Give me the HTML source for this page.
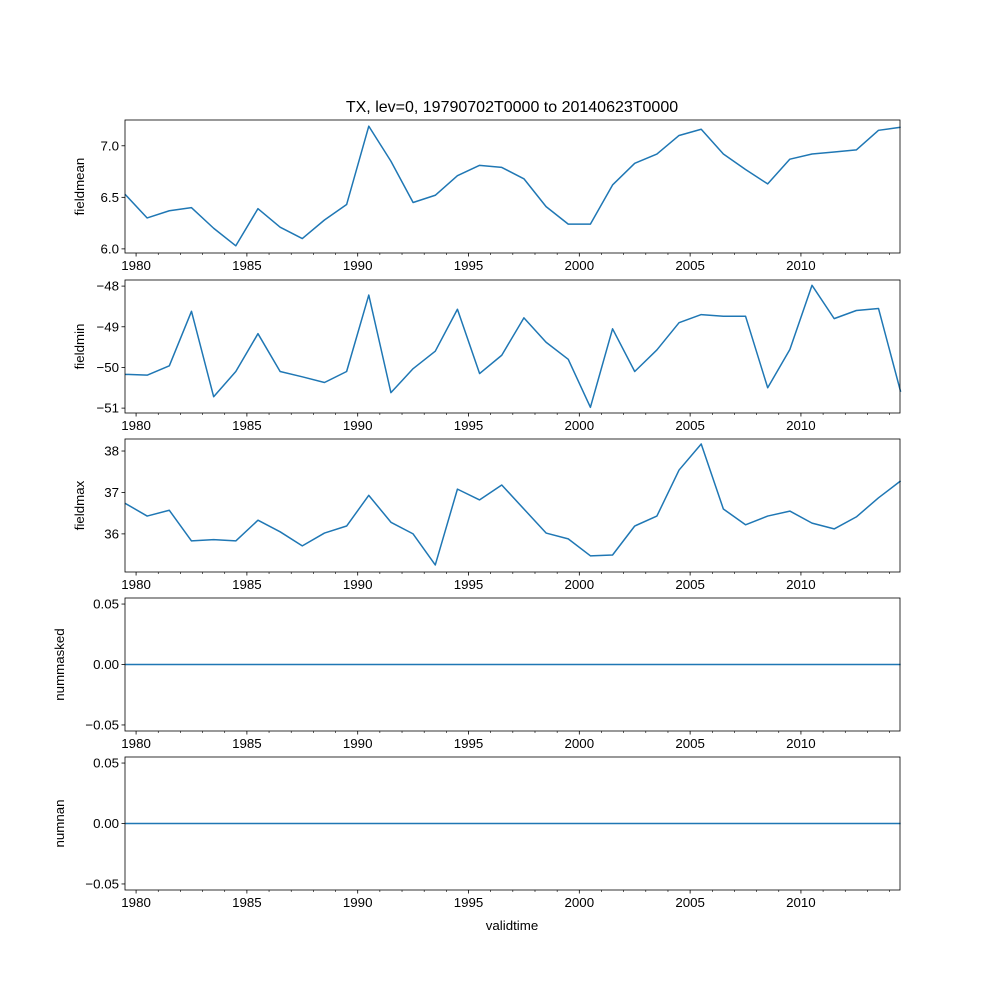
<!DOCTYPE html>
<html><head><meta charset="utf-8"><style>
html,body{margin:0;padding:0;background:#fff;}
svg{display:block;font-family:"Liberation Sans","DejaVu Sans",sans-serif;}
</style></head><body>
<svg id="chart" width="1000" height="1000" viewBox="0 0 1000 1000" xmlns="http://www.w3.org/2000/svg">
<rect width="1000" height="1000" fill="#fff"/>
<text x="512" y="112" font-size="16" text-anchor="middle">TX, lev=0, 19790702T0000 to 20140623T0000</text>
<text x="512" y="930" font-size="13.3" text-anchor="middle">validtime</text>
</svg>
<script>
const years = [1979,1980,1981,1982,1983,1984,1985,1986,1987,1988,1989,1990,1991,1992,1993,1994,1995,1996,1997,1998,1999,2000,2001,2002,2003,2004,2005,2006,2007,2008,2009,2010,2011,2012,2013,2014];
const fieldmean = [6.53,6.30,6.37,6.40,6.20,6.03,6.39,6.21,6.10,6.28,6.43,7.19,6.85,6.45,6.52,6.71,6.81,6.79,6.68,6.41,6.24,6.24,6.62,6.83,6.92,7.10,7.16,6.92,6.77,6.63,6.87,6.92,6.94,6.96,7.15,7.18];
const fieldmin = [-50.17,-50.19,-49.96,-48.62,-50.72,-50.1,-49.17,-50.1,-50.23,-50.37,-50.1,-48.22,-50.62,-50.03,-49.6,-48.57,-50.15,-49.7,-48.78,-49.38,-49.8,-50.98,-49.05,-50.1,-49.57,-48.9,-48.7,-48.74,-48.74,-50.5,-49.56,-47.98,-48.8,-48.6,-48.55,-50.6];
const fieldmax = [36.74,36.43,36.57,35.83,35.86,35.83,36.33,36.05,35.71,36.02,36.19,36.93,36.28,36.0,35.25,37.08,36.82,37.18,36.6,36.02,35.88,35.47,35.49,36.19,36.43,37.54,38.17,36.6,36.22,36.43,36.55,36.26,36.12,36.41,36.87,37.28];
const nummasked = years.map(()=>0);
const numnan = years.map(()=>0);
const xTickYears = [1980,1985,1990,1995,2000,2005,2010];
const panelNames = ["fieldmean","fieldmin","fieldmax","nummasked","numnan"];
const panelSeries = [fieldmean,fieldmin,fieldmax,nummasked,numnan];
const panelYLim = [[5.96,7.25],[-51.12,-47.85],[35.08,38.29],[-0.055,0.055],[-0.055,0.055]];
const panelYTicks = [[6.0,6.5,7.0],[-51,-50,-49,-48],[36,37,38],[-0.05,0,0.05],[-0.05,0,0.05]];
const panelYFmt = [v=>v.toFixed(1),v=>"\u2212"+Math.abs(v),v=>String(v),v=>(v<0?"\u2212":"")+Math.abs(v).toFixed(2),v=>(v<0?"\u2212":"")+Math.abs(v).toFixed(2)];
const panelTops = [120,280,439,598,757];

const NS="http://www.w3.org/2000/svg";
const svg=document.getElementById('chart');
const L=125,R=900,H=133;
const x0=1979.5,x1=2014.47;
function xs(t){return L+(t-x0)/(x1-x0)*(R-L);}
function mk(tag,attrs,parent){const e=document.createElementNS(NS,tag);for(const k in attrs)e.setAttribute(k,attrs[k]);(parent||svg).appendChild(e);return e;}

panelNames.forEach((name,p)=>{
  const top=panelTops[p],bot=top+H;
  const [lo,hi]=panelYLim[p];
  const ys=v=>bot-(v-lo)/(hi-lo)*H;
  const g=mk('g',{});
  
  
  // series
  const pts=panelSeries[p].map((v,i)=>xs(years[i]+0.5).toFixed(2)+','+ys(v).toFixed(2)).join(' ');
  const line=mk('polyline',{points:pts,fill:'none',stroke:'#1f77b4','stroke-width':1.5,'stroke-linejoin':'round'},g);
  
  
  // y ticks
  panelYTicks[p].forEach(v=>{
    const y=ys(v);
    mk('line',{x1:L-3.5,x2:L,y1:y,y2:y,stroke:'#000','stroke-width':0.8},g);
    const t=mk('text',{x:L-6,y:y+4.5,'font-size':13.3,'text-anchor':'end'},g);
    t.textContent=panelYFmt[p](v);
    
    
  });
  // x ticks minor
  for(let yr=1980;yr<=2014;yr++){
    const x=xs(yr);
    const major=xTickYears.includes(yr);
    mk('line',{x1:x,x2:x,y1:bot,y2:bot+(major?3.5:2),stroke:'#000','stroke-width':major?0.8:0.6},g);
  }
  xTickYears.forEach(yr=>{
    const t=mk('text',{x:xs(yr),y:bot+17,'font-size':13.3,'text-anchor':'middle'},g);
    t.textContent=yr;
    
    
  });
  // y label
  const yl=mk('text',{x:0,y:0,'font-size':13.3,'text-anchor':'middle',transform:`translate(${p>=3?64:84},${top+H/2}) rotate(-90)`},g);
  yl.textContent=name;
  
  
  const fr=mk('rect',{x:L,y:top,width:R-L,height:H,fill:'none',stroke:'#000','stroke-width':0.8},g);
  
  
});
</script>
</body></html>
